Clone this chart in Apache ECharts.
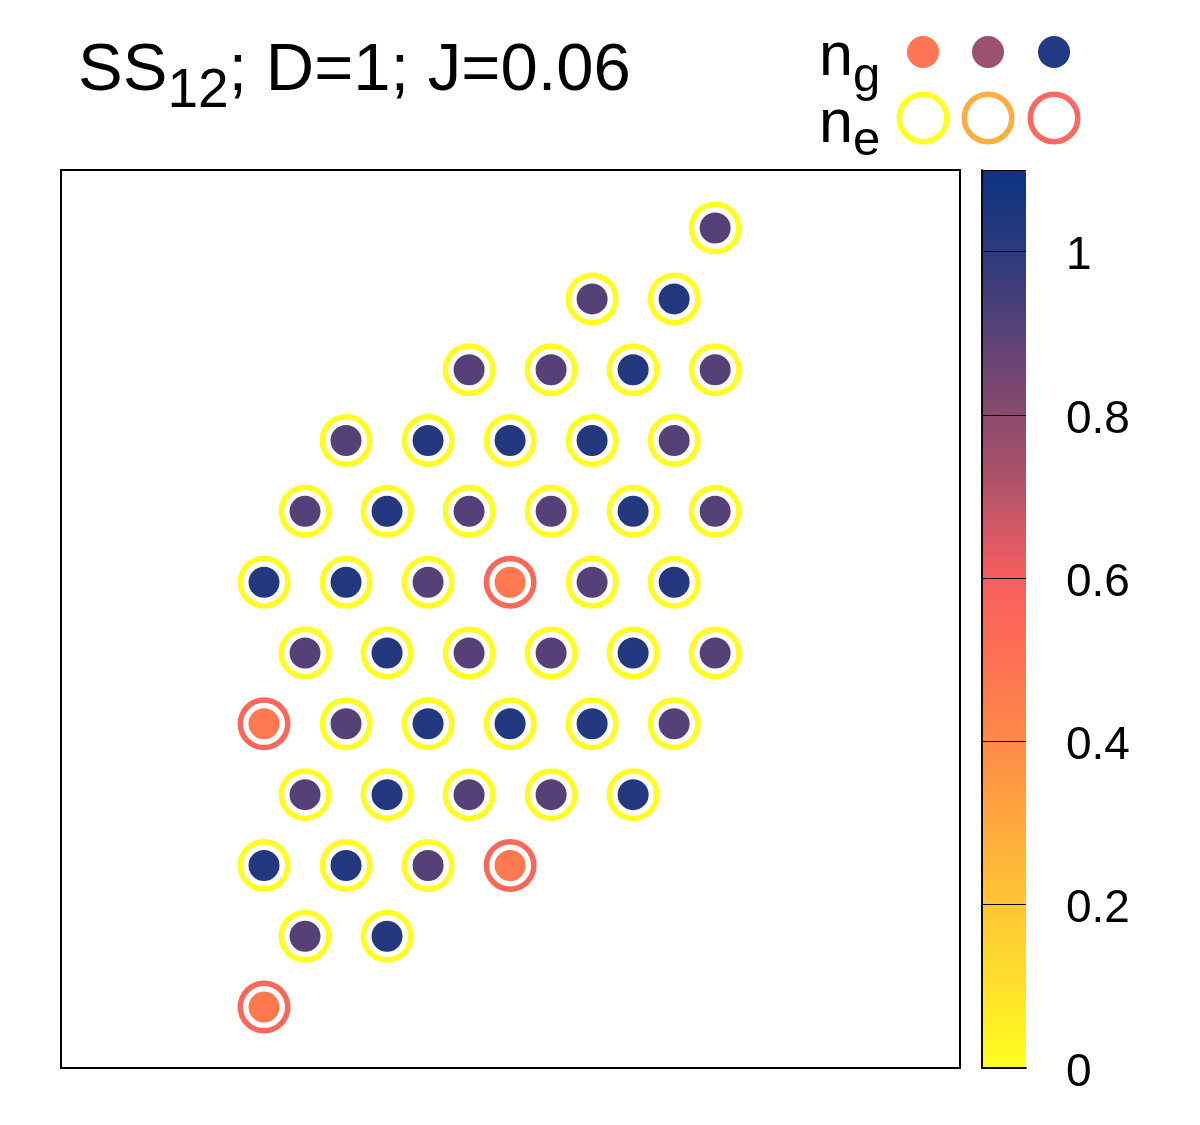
<!DOCTYPE html>
<html><head><meta charset="utf-8">
<script src="https://cdn.jsdelivr.net/npm/echarts@6/dist/echarts.min.js"></script>
<style>html,body{margin:0;padding:0;background:#fff}#c{width:1200px;height:1125px}</style>
</head><body><div id="c"></div>
<script>
// Lattice sites: column index (half lattice spacing) and row index (from bottom)
const siteCol = [0, 1,3, 0,2,4,6, 1,3,5,7,9, 0,2,4,6,8,10, 1,3,5,7,9,11, 0,2,4,6,8,10, 1,3,5,7,9,11, 2,4,6,8,10, 5,7,9,11, 8,10, 11];
const siteRow = [0, 1,1, 2,2,2,2, 3,3,3,3,3, 4,4,4,4,4,4, 5,5,5,5,5,5, 6,6,6,6,6,6, 7,7,7,7,7,7, 8,8,8,8,8, 9,9,9,9, 10,10, 11];
// ground-state occupation n_g per site
const ngValues = [0.47, 0.91,1.03, 1.03,1.03,0.91,0.47, 0.91,1.03,0.91,0.91,1.03, 0.47,0.91,1.03,1.03,1.03,0.91,
  0.91,1.03,0.91,0.91,1.03,0.91, 1.03,1.03,0.91,0.47,0.91,1.03, 0.91,1.03,0.91,0.91,1.03,0.91,
  0.91,1.03,1.03,1.03,0.91, 0.91,0.91,1.03,0.91, 0.91,1.03, 0.91];
// excited-state occupation n_e per site
const neValues = [0.55, 0.01,0.01, 0.01,0.01,0.01,0.55, 0.01,0.01,0.01,0.01,0.01, 0.55,0.01,0.01,0.01,0.01,0.01,
  0.01,0.01,0.01,0.01,0.01,0.01, 0.01,0.01,0.01,0.55,0.01,0.01, 0.01,0.01,0.01,0.01,0.01,0.01,
  0.01,0.01,0.01,0.01,0.01, 0.01,0.01,0.01,0.01, 0.01,0.01, 0.01];
// colour bar
const cbMin = 0, cbMax = 1.1, cbInterval = 0.2;
const paletteColors = ['#ffff20','#ffe02a','#ffc634','#ffa83e','#ff8a48','#ff7054','#f85e60','#b85468','#8a4a6e','#5a4276','#2c3a7e','#0d3282'];
// legend sample colours
const legendNg = ['#ff7555','#9c5070','#213a82'];
const legendNe = ['#ffff20','#ffad40','#ff6860'];

const FONT = '"Liberation Sans", Arial, Helvetica, sans-serif';
const ringData = siteCol.map((c, i) => [c, siteRow[i], neValues[i]]);
const dotData = siteCol.map((c, i) => [c, siteRow[i], ngValues[i]]);

const ctx = document.createElement('canvas').getContext('2d');
function tw(s, size) { ctx.font = size + 'px ' + FONT; return ctx.measureText(s).width; }

const tF = 67, tS = 55, tx0 = 78, tyMain = 72, tySub = 92;
const x1 = tx0 + tw('SS', tF), x2 = x1 + tw('12', tS);
const lF = 61, lS = 49, lx = 819;

function txt(text, x, y, size) {
  return { type: 'text', z: 100, style: { text: text, x: x, y: y, fill: '#000', fontSize: size, fontFamily: FONT, align: 'left', verticalAlign: 'middle' } };
}
const graphics = [
  txt('SS', tx0, tyMain, tF), txt('12', x1, tySub, tS), txt('; D=1; J=0.06', x2, tyMain, tF),
  txt('n', lx, 58, lF), txt('g', lx + tw('n', lF), 77, lS),
  txt('n', lx, 125, lF), txt('e', lx + tw('n', lF), 141, lS)
];
const lgX = [923, 988, 1054];
lgX.forEach((x, i) => {
  graphics.push({ type: 'circle', z: 100, shape: { cx: x, cy: 52, r: 16 }, style: { fill: legendNg[i] } });
  graphics.push({ type: 'circle', z: 100, shape: { cx: x, cy: 118, r: 23.75 }, style: { fill: 'none', stroke: legendNe[i], lineWidth: 5.5 } });
});

const chart = echarts.init(document.getElementById('c'));
chart.setOption({
  backgroundColor: '#fff',
  animation: false,
  graphic: graphics,
  grid: [
    { left: 61, top: 170, width: 899, height: 898, show: true, borderColor: '#000', borderWidth: 2, backgroundColor: 'transparent' },
    { left: 982, top: 170, width: 44, height: 898, show: false }
  ],
  xAxis: [
    { gridIndex: 0, type: 'value', min: -4.95, max: 16.97, show: false },
    { gridIndex: 1, type: 'value', min: 0, max: 1, position: 'bottom', z: 10, axisLine: { show: true, lineStyle: { color: '#000', width: 1.5 } }, axisTick: { show: false }, axisLabel: { show: false }, splitLine: { show: false } },
    { gridIndex: 1, type: 'value', min: 0, max: 1, position: 'top', z: 10, axisLine: { show: true, lineStyle: { color: '#000', width: 1.5 } }, axisTick: { show: false }, axisLabel: { show: false }, splitLine: { show: false } }
  ],
  yAxis: [
    { gridIndex: 0, type: 'value', min: -0.86, max: 11.82, show: false },
    { gridIndex: 1, type: 'value', min: cbMin, max: cbMax, interval: cbInterval, position: 'right', z: 10,
      axisLine: { show: true, lineStyle: { color: '#000', width: 1.5 } }, axisTick: { show: false },
      axisLabel: { show: true, margin: 40, fontSize: 46, fontFamily: FONT, color: '#000', showMaxLabel: false,
        verticalAlign: 'top', lineHeight: 10,
        formatter: v => (Math.abs(v - cbMax) < 1e-9 ? '' : String(Math.round(v * 10) / 10)) },
      splitLine: { show: true, lineStyle: { color: '#000', width: 1.2 } } },
    { gridIndex: 1, type: 'value', min: cbMin, max: cbMax, position: 'left', z: 10,
      axisLine: { show: true, lineStyle: { color: '#000', width: 1.5 } }, axisTick: { show: false }, axisLabel: { show: false }, splitLine: { show: false } }
  ],
  visualMap: {
    type: 'continuous', min: cbMin, max: cbMax, dimension: 2, seriesIndex: [0, 1],
    left: 982, top: 170, itemWidth: 44, itemHeight: 898, padding: 0,
    calculable: false, hoverLink: false, text: null, showLabel: false,
    inRange: { color: paletteColors }
  },
  series: [
    { type: 'scatter', xAxisIndex: 0, yAxisIndex: 0, data: ringData, symbol: 'circle', symbolSize: 53, silent: true,
      emphasis: { disabled: true }, itemStyle: { opacity: 1 } },
    { type: 'scatter', xAxisIndex: 0, yAxisIndex: 0, data: dotData, symbol: 'circle', symbolSize: 36.5, silent: true,
      emphasis: { disabled: true }, itemStyle: { opacity: 1, borderColor: '#fff', borderWidth: 5.5 } }
  ]
});
</script></body></html>
